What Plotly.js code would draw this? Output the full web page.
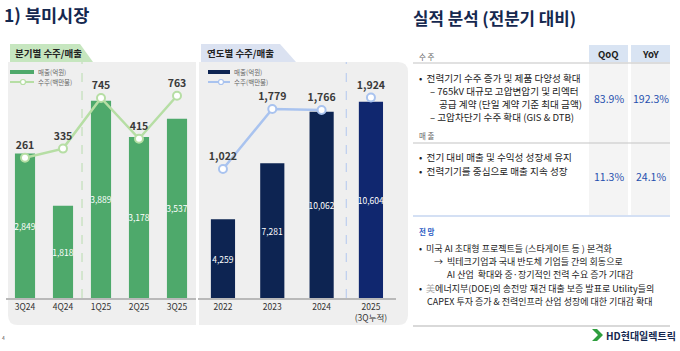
<!DOCTYPE html>
<html><head><meta charset="utf-8">
<script src="https://cdn.plot.ly/plotly-3.0.1.min.js"></script>
<style>html,body{margin:0;padding:0;background:#fff}#c{width:680px;height:351px}</style>
</head><body><div id="c"></div>
<script>
// ---- data ----
const quarters = ['3Q24','4Q24','1Q25','2Q25','3Q25'];
const qSales = [2849, 1818, 3889, 3178, 3537];      // 매출(억원)
const qOrders = [261, 335, 745, 415, 763];          // 수주(백만불)
const years = ['2022','2023','2024','2025'];
const yearTicks = ['2022','2023','2024','2025<br>(3Q누적)'];
const ySales = [4259, 7281, 10062, 10604];
const yOrders = [1022, 1779, 1766, 1924];
const growthLabels = ['QoQ','YoY'];
const ordersGrowth = ['83.9%','192.3%'];
const salesGrowth = ['11.3%','24.1%'];

const W=680,H=351;
const X=p=>p/W, Y=p=>1-p/H;
const FONT='"Noto Sans CJK KR", "Noto Sans", sans-serif';
const fmt=v=>v.toLocaleString('en-US');

function rr(x0,y0,x1,y1,tl,tr,br,bl){
  const P=(x,y)=>X(x)+','+Y(y);
  return 'M'+P(x0+tl,y0)+' L'+P(x1-tr,y0)+' Q'+P(x1,y0)+' '+P(x1,y0+tr)+
    ' L'+P(x1,y1-br)+' Q'+P(x1,y1)+' '+P(x1-br,y1)+' L'+P(x0+bl,y1)+' Q'+P(x0,y1)+' '+P(x0,y1-bl)+
    ' L'+P(x0,y0+tl)+' Q'+P(x0,y0)+' '+P(x0+tl,y0)+' Z';
}
function poly(pts){return 'M'+pts.map(p=>X(p[0])+','+Y(p[1])).join(' L')+' Z';}

const GREEN='#4ea96b', LGREEN='#b6dea4', NAVY='#0d2452', NAVY2='#10276f', LBLUE='#a9c3ef';

const traces=[
 {type:'bar',x:quarters,y:qSales,xaxis:'x',yaxis:'y',width:0.53,marker:{color:GREEN},
  text:qSales.map(fmt),textposition:'inside',insidetextanchor:'middle',constraintext:'none',textangle:0,
  textfont:{color:'#fff',size:8.5,family:FONT},hoverinfo:'skip'},
 {type:'scatter',mode:'lines+markers+text',x:quarters,y:qOrders,xaxis:'x',yaxis:'y2',
  line:{color:LGREEN,width:2.5},marker:{size:8,color:'#fff',line:{color:LGREEN,width:2}},
  text:qOrders.map(fmt),textposition:'top center',cliponaxis:false,
  textfont:{color:'#3a3a3a',size:10.5,family:FONT,weight:'bold'}},
 {type:'bar',x:years,y:ySales,xaxis:'x2',yaxis:'y3',width:0.49,marker:{color:[NAVY,NAVY,NAVY,NAVY2]},
  text:ySales.map(fmt),textposition:'inside',insidetextanchor:'middle',constraintext:'none',textangle:0,
  textfont:{color:'#fff',size:8.5,family:FONT},hoverinfo:'skip'},
 {type:'scatter',mode:'lines+markers+text',x:years.slice(0,3),y:yOrders.slice(0,3),xaxis:'x2',yaxis:'y4',
  line:{color:LBLUE,width:2.5},marker:{size:8,color:'#fff',line:{color:LBLUE,width:2}},
  text:yOrders.slice(0,3).map(fmt),textposition:'top center',cliponaxis:false,
  textfont:{color:'#3a3a3a',size:10.5,family:FONT,weight:'bold'}},
 {type:'scatter',mode:'markers+text',x:years.slice(3),y:yOrders.slice(3),xaxis:'x2',yaxis:'y4',
  marker:{size:8,color:'#fff',line:{color:LBLUE,width:2}},
  text:yOrders.slice(3).map(fmt),textposition:'top center',cliponaxis:false,
  textfont:{color:'#3a3a3a',size:10.5,family:FONT,weight:'bold'}}
];

const yd=[53/H, 289/H];
const layout={
 width:W,height:H,margin:{l:0,r:0,t:0,b:0},paper_bgcolor:'#fff',plot_bgcolor:'rgba(0,0,0,0)',
 showlegend:false,font:{family:FONT},
 xaxis:{domain:[X(6),X(196)],anchor:'y',type:'category',range:[-0.5,4.5],showline:true,linecolor:'#b9b9b9',linewidth:1.5,
   ticks:'',tickfont:{size:8.5,color:'#333'},showgrid:false,fixedrange:true},
 yaxis:{domain:yd,range:[0,4655],visible:false},
 yaxis2:{domain:yd,overlaying:'y',range:[-874,1036],visible:false},
 xaxis2:{domain:[X(198.3),X(395.6)],anchor:'y3',type:'category',range:[-0.5,3.5],showline:true,linecolor:'#b9b9b9',linewidth:1.5,
   ticks:'',tickfont:{size:8.5,color:'#333'},showgrid:false,tickvals:years,ticktext:yearTicks},
 yaxis3:{domain:yd,anchor:'x2',range:[0,12757],visible:false},
 yaxis4:{domain:yd,anchor:'x2',overlaying:'y3',range:[-605,2371],visible:false},
 shapes:[],annotations:[]
};
const S=layout.shapes, A=layout.annotations;
function T(x,y,t,opt){A.push(Object.assign({xref:'paper',yref:'paper',x:X(x),y:Y(y),xanchor:'left',yanchor:'middle',text:t,showarrow:false,font:{size:9,color:'#222'}},opt||{}));}
// panels
S.push({type:'path',xref:'paper',yref:'paper',path:rr(8,62,196,325,0,0,0,10),fillcolor:'#efefef',line:{width:0},layer:'below'});
S.push({type:'path',xref:'paper',yref:'paper',path:rr(199,62,408,325,0,10,10,0),fillcolor:'#efefef',line:{width:0},layer:'below'});
// tabs
S.push({type:'path',xref:'paper',yref:'paper',path:poly([[10,62],[10,44],[80,44],[93,62]]),fillcolor:'#c6e6bf',line:{width:0},layer:'below'});
S.push({type:'path',xref:'paper',yref:'paper',path:poly([[201,62],[201,44],[280,44],[296,62]]),fillcolor:'#dbe2f1',line:{width:0},layer:'below'});
T(48,53,'분기별 수주/매출',{xanchor:'center',font:{size:9.5,color:'#222',weight:'bold'}});
T(240,53,'연도별 수주/매출',{xanchor:'center',font:{size:9.5,color:'#222',weight:'bold'}});
// dashed separators
S.push({type:'line',xref:'x',yref:'paper',x0:1.5,x1:1.5,y0:Y(298),y1:Y(62),line:{color:'#b8dcae',width:1,dash:'dash'}});
S.push({type:'line',xref:'x2',yref:'paper',x0:2.5,x1:2.5,y0:Y(298),y1:Y(62),line:{color:'#b3c8ee',width:1,dash:'dash'}});
// legends
function legend(x0,x1,yy,col,thick,marker,label){
  S.push({type:'line',xref:'paper',yref:'paper',x0:X(x0),x1:X(x1),y0:Y(yy),y1:Y(yy),line:{color:col,width:thick}});
  if(marker) S.push({type:'circle',xref:'paper',yref:'paper',x0:X(marker-2.5),x1:X(marker+2.5),y0:Y(yy-2.5),y1:Y(yy+2.5),fillcolor:'#fff',line:{color:col,width:1.2}});
  T(x1+2,yy,label,{font:{size:6.5,color:'#666'}});
}
legend(10,34,72,GREEN,4,null,'매출(억원)');
legend(10,34,82,LGREEN,2,23,'수주(백만불)');
legend(208,230,72,NAVY,4,null,'매출(억원)');
legend(208,230,82,LBLUE,2,221,'수주(백만불)');
// titles
T(2,15,'1) 북미시장',{font:{size:17.5,color:'#15284f',weight:'bold'}});
T(411,18,'실적 분석 (전분기 대비)',{font:{size:16.8,color:'#15284f',weight:'bold'}});
T(0,337,'4',{font:{size:5,color:'#555'}});
// right table
const cols=[[589,628],[631,670]];
cols.forEach((c,i)=>{
  S.push({type:'rect',xref:'paper',yref:'paper',x0:X(c[0]),x1:X(c[1]),y0:Y(45),y1:Y(62),fillcolor:'#d9e4f3',line:{width:0},layer:'below'});
  S.push({type:'rect',xref:'paper',yref:'paper',x0:X(c[0]),x1:X(c[1]),y0:Y(62),y1:Y(215),fillcolor:'#f4f4f4',line:{width:0},layer:'below'});
  const cx=(c[0]+c[1])/2;
  T(cx,54,growthLabels[i],{xanchor:'center',font:{size:9.5,color:'#222',weight:'bold'}});
  T(cx,98,ordersGrowth[i],{xanchor:'center',font:{size:10.5,color:'#1f4fae'}});
  T(cx,176,salesGrowth[i],{xanchor:'center',font:{size:10.5,color:'#1f4fae'}});
});
S.push({type:'line',xref:'paper',yref:'paper',x0:X(413),x1:X(670),y0:Y(63),y1:Y(63),line:{color:'#c4c4c4',width:1.2}});
S.push({type:'line',xref:'paper',yref:'paper',x0:X(413),x1:X(670),y0:Y(143),y1:Y(143),line:{color:'#c4c4c4',width:1.2}});
S.push({type:'line',xref:'paper',yref:'paper',x0:X(413),x1:X(670),y0:Y(216),y1:Y(216),line:{color:'#a9c1ea',width:1.2}});
S.push({type:'line',xref:'paper',yref:'paper',x0:X(413),x1:X(670),y0:Y(326),y1:Y(326),line:{color:'#cccccc',width:1.5}});
const up={font:{size:9.6,color:'#222'}};
T(417,57,'수 주',{font:{size:7.5,color:'#666'}});
T(417,135,'매 출',{font:{size:7.5,color:'#666'}});
T(417,231,'전 망',{font:{size:7.5,color:'#2a5cc4',weight:'bold'}});
T(417,78,'•  전력기기 수주 증가 및 제품 다양성 확대',up);
T(428,91,'– 765kV 대규모 고압변압기 및 리엑터',up);
T(437,104,'공급 계약 (단일 계약 기준 최대 금액)',up);
T(428,117,'– 고압차단기 수주 확대 (GIS & DTB)',up);
T(417,157,'•  전기 대비 매출 및 수익성 성장세 유지',up);
T(417,171,'•  전력기기를 중심으로 매출 지속 성장',up);
T(417,248,'•  미국 AI 초대형 프로젝트들 (스타게이트 등 ) 본격화');
T(432,261,'→  빅테크기업과 국내 반도체 기업들 간의 회동으로');
T(445,274,'AI 산업  확대와 중·장기적인 전력 수요 증가 기대감');
T(417,288,'•  <span style="color:#aaa">美</span>에너지부(DOE)의 송전망 재건 대출 보증 발표로 Utility들의');
T(425,301,'CAPEX 투자 증가 & 전력인프라 산업 성장에 대한 기대감 확대');
// logo
S.push({type:'path',xref:'paper',yref:'paper',path:poly([[592,329],[597,329],[603,335],[597,341],[592,341],[598,335]]),fillcolor:'#2e9e3e',line:{width:0}});
T(604,335,'HD현대일렉트릭',{font:{size:10,color:'#15284f',weight:'bold'}});

Plotly.newPlot('c',traces,layout,{staticPlot:true,displayModeBar:false});
</script></body></html>
